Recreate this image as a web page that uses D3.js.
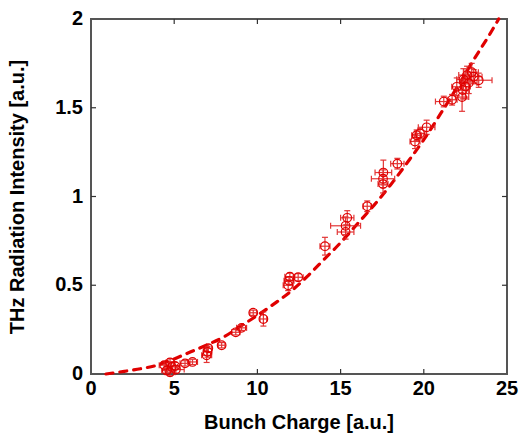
<!DOCTYPE html>
<html><head><meta charset="utf-8">
<script src="https://cdn.jsdelivr.net/npm/d3@7"></script>
<style>body{margin:0;background:#fff}svg{display:block}text{font-family:Arial,"Liberation Sans",sans-serif;font-weight:bold}</style>
</head><body><svg id="c" width="520" height="436"></svg>
<script>
// Data points (charge, intensity) with error bars
const charge = [4.4,4.55,4.75,4.85,4.75,5.05,5.1,5.65,6.1,6.95,7.0,7.05,7.85,8.7,9.05,9.75,10.36,11.85,11.9,11.95,12.45,14.06,15.3,15.3,15.4,16.6,17.55,17.55,17.57,18.41,19.47,19.57,19.77,20.17,21.2,21.7,21.98,22.3,22.34,22.38,22.6,22.88,23.0,23.3,22.7,22.5];
const intensity = [0.05,0.02,0.01,0.04,0.065,0.045,0.025,0.06,0.068,0.105,0.125,0.145,0.162,0.235,0.26,0.345,0.31,0.50,0.525,0.548,0.545,0.72,0.80,0.835,0.88,0.945,1.07,1.10,1.135,1.185,1.31,1.345,1.355,1.39,1.535,1.545,1.618,1.56,1.60,1.66,1.684,1.70,1.675,1.655,1.64,1.62];
const chargeErr = [0.3,0.3,0.3,0.35,0.25,0.3,0.5,0.3,0.3,0.3,0.25,0.2,0.2,0.25,0.3,0.2,0.2,0.3,0.3,0.3,0.3,0.3,0.5,0.9,0.4,0.25,0.3,0.7,0.5,0.4,0.3,0.3,0.3,0.5,0.5,0.3,0.3,0.4,0.4,0.4,0.5,0.4,0.5,0.8,0.5,0.3];
const intensityErr = [0.02,0.02,0.02,0.03,0.02,0.02,0.02,0.015,0.015,0.04,0.03,0.02,0.015,0.015,0.015,0.015,0.04,0.03,0.02,0.02,0.02,0.05,0.04,0.05,0.04,0.03,0.05,0.05,0.07,0.03,0.04,0.03,0.03,0.04,0.03,0.03,0.05,0.08,0.05,0.06,0.05,0.05,0.04,0.04,0.06,0.07];
// Fit curve
const fitX = [0.9,2,3,4,5,6,7,8,9,10,11,12,13,14,15,16,17,18,19,20,21,22,23,24,24.5];
const fitY = [0,0.015,0.03,0.05,0.085,0.125,0.165,0.21,0.27,0.33,0.395,0.465,0.55,0.645,0.74,0.845,0.95,1.065,1.19,1.32,1.465,1.615,1.77,1.92,2.0];
const xTicks = [0,5,10,15,20,25];
const yTicks = [0,0.5,1,1.5,2];
const yTickLabels = ["0","0.5","1","1.5","2"];

const svg = d3.select("#c");
const L=91,R=507,T=19,B=374;
const x = d3.scaleLinear().domain([0,25]).range([L,R]);
const y = d3.scaleLinear().domain([0,2]).range([B,T]);
const red = "#e00000";

// frame
svg.append("rect").attr("x",L).attr("y",T).attr("width",R-L).attr("height",B-T)
  .attr("fill","none").attr("stroke","#555").attr("stroke-width",2);

// ticks inward
const tk=5;
const g = svg.append("g").attr("stroke","#333").attr("stroke-width",1.2);
xTicks.slice(1,-1).forEach(t=>{
  g.append("line").attr("x1",x(t)).attr("x2",x(t)).attr("y1",B).attr("y2",B-tk);
  g.append("line").attr("x1",x(t)).attr("x2",x(t)).attr("y1",T).attr("y2",T+tk);
});
yTicks.slice(1,-1).forEach(t=>{
  g.append("line").attr("x1",L).attr("x2",L+tk).attr("y1",y(t)).attr("y2",y(t));
  g.append("line").attr("x1",R).attr("x2",R-tk).attr("y1",y(t)).attr("y2",y(t));
});

// tick labels
svg.selectAll(".xl").data(xTicks).enter().append("text")
  .attr("x",d=>x(d)).attr("y",B+21).attr("text-anchor","middle").attr("font-size",20).attr("fill","#000").text(d=>d);
svg.selectAll(".yl").data(yTicks).enter().append("text")
  .attr("x",L-8).attr("y",(d)=>y(d)+6).attr("text-anchor","end").attr("font-size",20).attr("fill","#000").text((d,i)=>yTickLabels[i]);

// titles
svg.append("text").attr("x",299).attr("y",429).attr("text-anchor","middle").attr("font-size",20).text("Bunch Charge [a.u.]");
svg.append("text").attr("transform","translate(24,197) rotate(-90)").attr("text-anchor","middle").attr("font-size",20).text("THz Radiation Intensity [a.u.]");

// fit curve
const line = d3.line().x((d,i)=>x(fitX[i])).y((d,i)=>y(fitY[i])).curve(d3.curveMonotoneX);
svg.append("path").datum(fitX).attr("d",line).attr("fill","none").attr("stroke",red)
  .attr("stroke-width",3.2).attr("stroke-dasharray","7,7").attr("stroke-linecap","round");

// error bars + markers
const pts = charge.map((c,i)=>({c, v:intensity[i], ex:chargeErr[i], ey:intensityErr[i]}));
const eg = svg.append("g").attr("stroke","#e02020").attr("stroke-width",1.2).attr("fill","none").attr("opacity",0.9);
const cap=3;
pts.forEach(p=>{
  const cx=x(p.c), cy=y(p.v);
  const x1=x(p.c-p.ex), x2=x(p.c+p.ex), y1=y(p.v-p.ey), y2=y(p.v+p.ey);
  eg.append("line").attr("x1",x1).attr("x2",x2).attr("y1",cy).attr("y2",cy);
  eg.append("line").attr("x1",x1).attr("x2",x1).attr("y1",cy-cap).attr("y2",cy+cap);
  eg.append("line").attr("x1",x2).attr("x2",x2).attr("y1",cy-cap).attr("y2",cy+cap);
  eg.append("line").attr("x1",cx).attr("x2",cx).attr("y1",y1).attr("y2",y2);
  eg.append("line").attr("x1",cx-cap).attr("x2",cx+cap).attr("y1",y1).attr("y2",y1);
  eg.append("line").attr("x1",cx-cap).attr("x2",cx+cap).attr("y1",y2).attr("y2",y2);
});
svg.append("g").selectAll("circle").data(pts).enter().append("circle")
  .attr("cx",d=>x(d.c)).attr("cy",d=>y(d.v)).attr("r",4.3)
  .attr("fill","none").attr("stroke",red).attr("stroke-width",1.2);
</script></body></html>
